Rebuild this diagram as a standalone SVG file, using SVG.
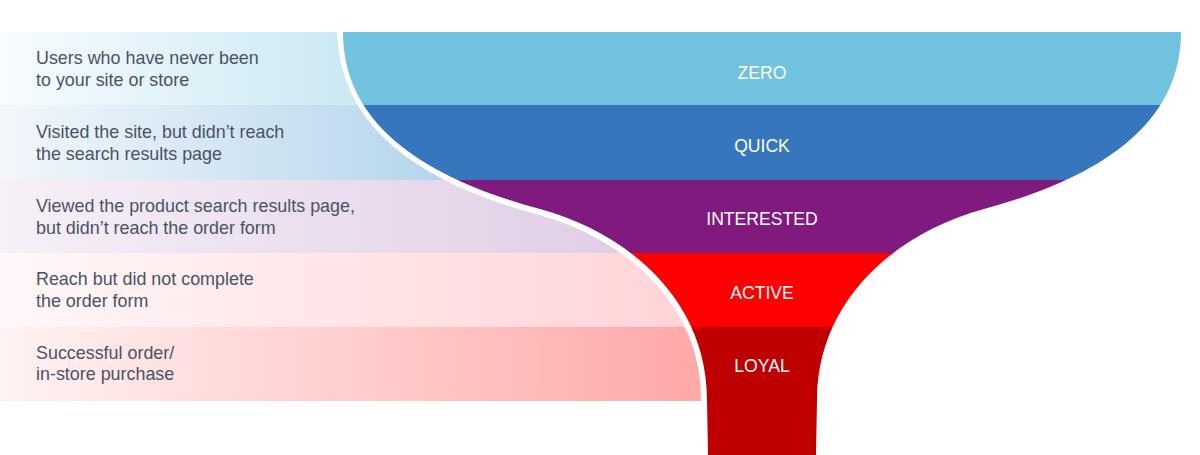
<svg xmlns="http://www.w3.org/2000/svg" width="1200" height="455" viewBox="0 0 1200 455">
<style>
.desc{font-family:"Liberation Sans",Arial,sans-serif;font-size:17.9px;fill:#4A5366}
.lbl{font-family:"Liberation Sans",Arial,sans-serif;font-size:17.6px;fill:#ffffff;text-anchor:middle}
</style>
<defs>
<linearGradient id="g1" gradientUnits="userSpaceOnUse" x1="0" y1="0" x2="340" y2="0"><stop offset="0" stop-color="#F7FCFE"/><stop offset="1" stop-color="#CDE9F4"/></linearGradient>
<linearGradient id="g2" gradientUnits="userSpaceOnUse" x1="0" y1="0" x2="450" y2="0"><stop offset="0" stop-color="#F2F7FB"/><stop offset="1" stop-color="#B4D5EB"/></linearGradient>
<linearGradient id="g3" gradientUnits="userSpaceOnUse" x1="0" y1="0" x2="640" y2="0"><stop offset="0" stop-color="#F6F0F7"/><stop offset="1" stop-color="#E0CDE5"/></linearGradient>
<linearGradient id="g4" gradientUnits="userSpaceOnUse" x1="0" y1="0" x2="700" y2="0"><stop offset="0" stop-color="#FFF7F8"/><stop offset="1" stop-color="#FFD3D6"/></linearGradient>
<linearGradient id="g5" gradientUnits="userSpaceOnUse" x1="0" y1="0" x2="700" y2="0"><stop offset="0" stop-color="#FFF3F3"/><stop offset="1" stop-color="#FFA8A8"/></linearGradient>
<clipPath id="funnel"><path d="M343,32 C343,125 425,178 540,209 C628,233 707,300 707,400 L708,455 L816,455 L817,400 C817,300 896,233 984,209 C1099,178 1181,125 1181,32 Z"/></clipPath>
</defs>
<rect width="1200" height="455" fill="#ffffff"/>
<g id="desc-zero"><rect x="0" y="32" width="760" height="73" fill="url(#g1)"/>
<text class="desc" x="36" y="64">Users who have never been</text><text class="desc" x="36" y="86">to your site or store</text></g>
<g id="desc-quick"><rect x="0" y="105" width="760" height="75" fill="url(#g2)"/>
<text class="desc" x="36" y="138">Visited the site, but didn’t reach</text><text class="desc" x="36" y="159.5">the search results page</text></g>
<g id="desc-interested"><rect x="0" y="180" width="760" height="73" fill="url(#g3)"/>
<text class="desc" x="36" y="212">Viewed the product search results page,</text><text class="desc" x="36" y="233.5">but didn’t reach the order form</text></g>
<g id="desc-active"><rect x="0" y="253" width="760" height="74" fill="url(#g4)"/>
<text class="desc" x="36" y="285">Reach but did not complete</text><text class="desc" x="36" y="306.5">the order form</text></g>
<g id="desc-loyal"><rect x="0" y="327" width="701" height="74" fill="url(#g5)"/>
<text class="desc" x="36" y="358.5">Successful order/</text><text class="desc" x="36" y="380">in-store purchase</text></g>
<path id="divider" d="M343,26 C343,125 425,178 540,209 C628,233 707,300 707,400 L708,460" fill="none" stroke="#ffffff" stroke-width="12"/>
<g clip-path="url(#funnel)">
<g id="stage-zero"><rect x="300" y="32" width="900" height="73" fill="#70C2DF"/><text class="lbl" x="762" y="79">ZERO</text></g>
<g id="stage-quick"><rect x="300" y="105" width="900" height="75" fill="#3676BD"/><text class="lbl" x="762" y="152">QUICK</text></g>
<g id="stage-interested"><rect x="300" y="180" width="900" height="73" fill="#801A7F"/><text class="lbl" x="762" y="225">INTERESTED</text></g>
<g id="stage-active"><rect x="300" y="253" width="900" height="74" fill="#FF0000"/><text class="lbl" x="762" y="299">ACTIVE</text></g>
<g id="stage-loyal"><rect x="300" y="327" width="900" height="128" fill="#BE0000"/><text class="lbl" x="762" y="372">LOYAL</text></g>
</g>
</svg>
